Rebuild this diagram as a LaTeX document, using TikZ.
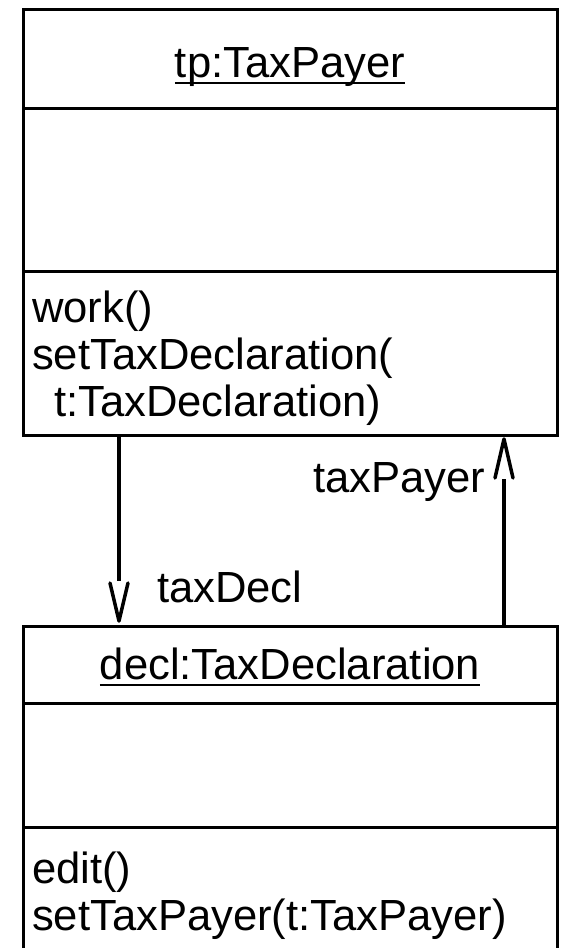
\documentclass[tikz,border=0pt]{standalone}
\usepackage{fontspec}
\setmainfont{Liberation Sans}
\begin{document}
\begin{tikzpicture}[x=1pt,y=-1pt,
  boxline/.style={line width=3pt},
  arrowline/.style={line width=3.5pt},
  headline/.style={line width=3.5pt, line join=round, line cap=round},
  txt/.style={inner sep=0pt, outer sep=0pt, font=\fontsize{43.6}{47}\selectfont, anchor=base west},
  title/.style={inner sep=0pt, outer sep=0pt, font=\fontsize{43.6}{47}\selectfont, anchor=base},
  uline/.style={line width=2pt},
  frame/.style={rectangle, inner sep=0pt, outer sep=0pt, anchor=north west}]
\useasboundingbox (0,0) rectangle (564,948);
% coordinates
\path (0,108) coordinate (ya) (0,271) coordinate (yb)
      (0,703) coordinate (yc) (0,827) coordinate (yd)
      (119,0) coordinate (xl) (504,0) coordinate (xr);
% top box
\node[frame, draw, boxline, minimum width=534pt, minimum height=426pt] (tp) at (23,9) {};
\draw[boxline] (tp.west |- ya) -- (tp.east |- ya);
\draw[boxline] (tp.west |- yb) -- (tp.east |- yb);
\node[title] (tpname) at (290,77) {tp:TaxPayer};
\draw[uline] ([yshift=-6pt]tpname.base west) -- ([yshift=-6pt]tpname.base east);
\node[txt] (m1) at (32,322) {work()};
\node[txt] (m2) at (32,369) {setTaxDeclaration(};
\node[txt] (m3) at (54,416) {t:TaxDeclaration)};
% bottom box
\node[frame, minimum width=534pt, minimum height=340pt] (decl) at (23,626) {};
\draw[boxline] (decl.south west) -- (decl.north west) -- (decl.north east) -- (decl.south east);
\draw[boxline] (decl.west |- yc) -- (decl.east |- yc);
\draw[boxline] (decl.west |- yd) -- (decl.east |- yd);
\node[title] (declname) at (290,679) {decl:TaxDeclaration};
\draw[uline] ([yshift=-6pt]declname.base west) -- ([yshift=-6pt]declname.base east);
\node[txt] (n1) at (32,883) {edit()};
\node[txt] (n2) at (32,930) {setTaxPayer(t:TaxPayer)};
% arrow tp -> decl
\coordinate (l1) at (119,581);
\coordinate (ltip) at (119,621);
\draw[arrowline] (tp.south -| xl) -- (l1);
\draw[headline] (110,583) -- (ltip) -- (128,583);
\node[txt] (lab1) at (157,602) {taxDecl};
% arrow decl -> tp
\coordinate (r1) at (504,479);
\coordinate (rtip) at (504,439);
\draw[arrowline] (decl.north -| xr) -- (r1);
\draw[headline] (495,478) -- (rtip) -- (513,478);
\node[txt] (lab2) at (313,492) {taxPayer};
\end{tikzpicture}
\end{document}
